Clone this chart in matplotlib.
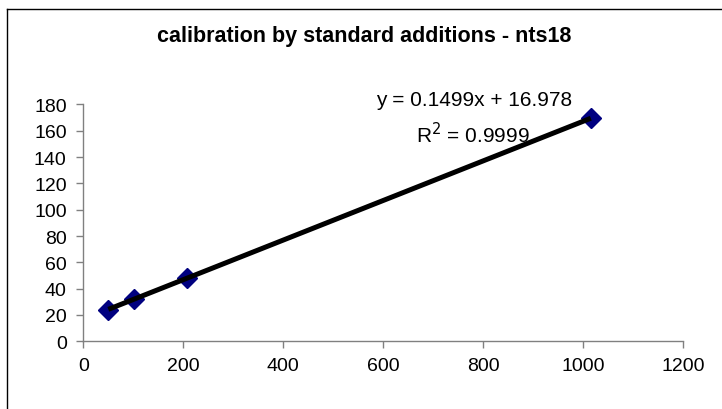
import matplotlib.pyplot as plt
import numpy as np
from matplotlib.lines import Line2D

plt.rcParams['font.family'] = ['Liberation Sans', 'DejaVu Sans']

# standard additions data
added = [50, 102, 208, 1015]
signal = [24.0, 32.2, 48.3, 169.5]
x_ticks = [0, 200, 400, 600, 800, 1000, 1200]
y_ticks = [0, 20, 40, 60, 80, 100, 120, 140, 160, 180]
title = 'calibration by standard additions - nts18'

fig = plt.figure(figsize=(7.22, 4.10), dpi=100)
ax = fig.add_axes([0.1154, 0.1651, 0.8310, 0.5776])

# linear trend line over data range
slope, icpt = np.polyfit(added, signal, 1)
xs = np.array([min(added), max(added)])
ax.plot(xs, slope * xs + icpt, color='black', lw=3.6, solid_capstyle='butt', zorder=3)
ax.plot(added, signal, ls='none', marker='D', ms=10, color='#000080',
        mec='#000080', zorder=2, clip_on=False)

ax.set_xlim(0, 1200)
ax.set_ylim(0, 180)
ax.set_xticks(x_ticks)
ax.set_yticks(y_ticks)
ax.tick_params(labelsize=14, length=5, width=1, color='#808080', direction='out')
ax.tick_params(axis='x', pad=6)
ax.tick_params(axis='y', pad=7)
for s in ['top', 'right']:
    ax.spines[s].set_visible(False)
for s in ['left', 'bottom']:
    ax.spines[s].set_color('#808080')
    ax.spines[s].set_linewidth(1)

fig.text(0.505, 0.911, title, ha='center', va='center', fontsize=15.5, fontweight='bold')
fig.text(0.657, 0.756, 'y = 0.1499x + 16.978', ha='center', va='center', fontsize=15)
fig.text(0.655, 0.671, r'R$^2$ = 0.9999', ha='center', va='center', fontsize=15)

# chart area border (only top and left visible)
fig.add_artist(Line2D([7/722, 1], [1 - 10/410, 1 - 10/410], color='black', lw=1))
fig.add_artist(Line2D([7/722, 7/722], [0, 1 - 10/410], color='black', lw=1))

fig.savefig('out.png', dpi=100)
